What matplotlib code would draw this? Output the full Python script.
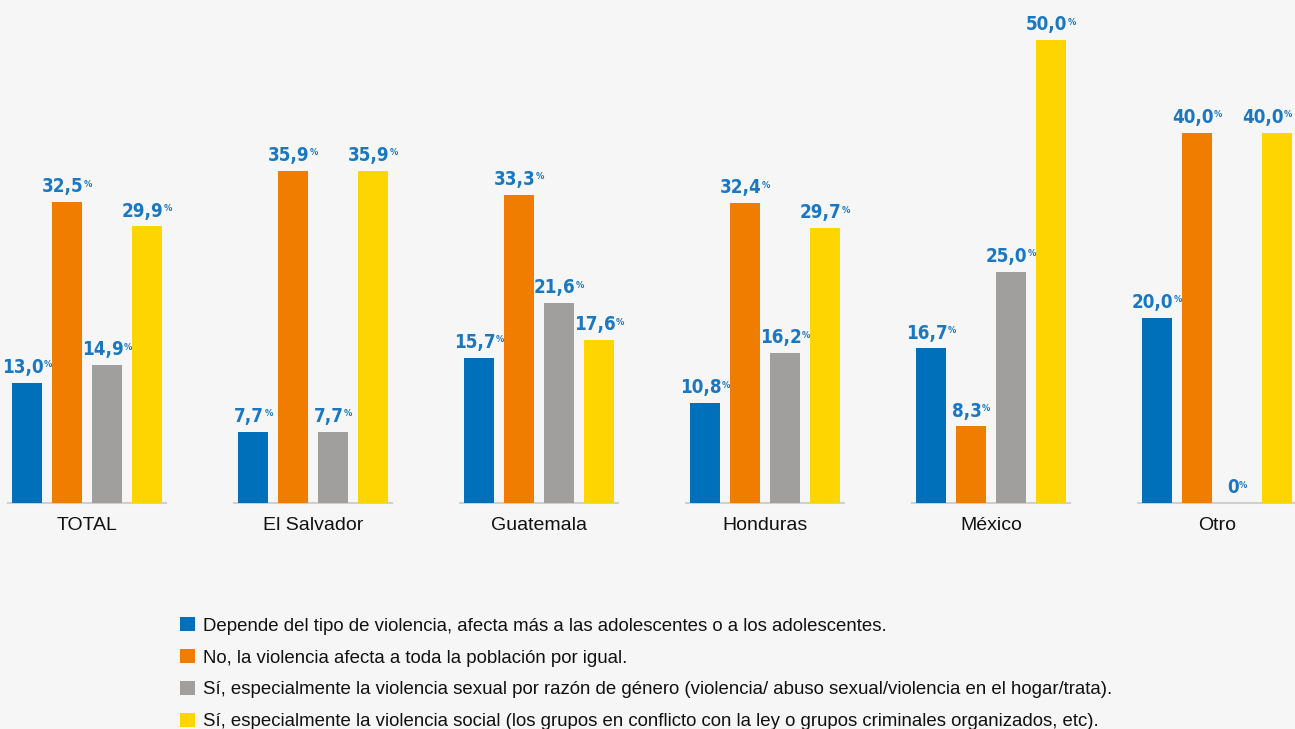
import matplotlib
matplotlib.use("Agg")
import matplotlib.pyplot as plt
import numpy as np
from matplotlib import font_manager as fm

categories = ["TOTAL", "El Salvador", "Guatemala", "Honduras", "México", "Otro"]
series_names = [
    "Depende del tipo de violencia, afecta más a las adolescentes o a los adolescentes.",
    "No, la violencia afecta a toda la población por igual.",
    "Sí, especialmente la violencia sexual por razón de género (violencia/ abuso sexual/violencia en el hogar/trata).",
    "Sí, especialmente la violencia social (los grupos en conflicto con la ley o grupos criminales organizados, etc).",
]
depende = [13.0, 7.7, 15.7, 10.8, 16.7, 20.0]
no_igual = [32.5, 35.9, 33.3, 32.4, 8.3, 40.0]
sexual = [14.9, 7.7, 21.6, 16.2, 25.0, 0.0]
social = [29.9, 35.9, 17.6, 29.7, 50.0, 40.0]
series = [depende, no_igual, sexual, social]
colors = ["#0070ba", "#f07d00", "#a09f9d", "#ffd500"]
bg = "#f6f6f6"
label_color = "#1a78c2"

# find a condensed bold font file if any
cands = []
for f in fm.fontManager.ttflist:
    nm = (f.name + " " + f.fname).lower()
    if ("condensed" in nm or "narrow" in nm or f.stretch in ("condensed", "semi-condensed", "extra-condensed")):
        w = f.weight if isinstance(f.weight, int) else (700 if "bold" in str(f.weight) else 400)
        if "italic" in nm or "oblique" in nm or f.style != "normal":
            continue
        cands.append((abs(w - 700), f.fname))
cands.sort()
if cands:
    cond_prop = fm.FontProperties(fname=cands[0][1])
    cond_size = 13.5
else:
    cond_prop = fm.FontProperties(family="DejaVu Sans", weight="bold")
    cond_size = 11.5

names = {f.name for f in fm.fontManager.ttflist}
txt_font = "Liberation Sans" if "Liberation Sans" in names else "DejaVu Sans"

W, H = 1295, 729
fig = plt.figure(figsize=(W / 100, H / 100), dpi=100, facecolor=bg)
ax = fig.add_axes([0, (H - 503) / H, 1, (503 - 40) / H])
ax.set_facecolor(bg)
group_px = 226.0
center0 = 87.0
ax.set_xlim(-center0 / group_px, (W - center0) / group_px)
ax.set_ylim(0, 50)
ax.axis("off")

bw = 30 / group_px
step = 40 / group_px
x = np.arange(len(categories))
pairs = []
for i, (vals, col, nm) in enumerate(zip(series, colors, series_names)):
    pos = x + (i - 1.5) * step
    ax.bar(pos, vals, width=bw, color=col, label=nm, zorder=2)
    for px_, v in zip(pos, vals):
        s = "0" if v == 0 else f"{v:.1f}".replace(".", ",")
        p1 = cond_prop.copy(); p1.set_size(cond_size)
        t = ax.annotate(s, xy=(px_, v), xytext=(-3, 4), textcoords="offset points",
                        ha="center", va="bottom", fontproperties=p1,
                        color=label_color, zorder=3)
        p2 = cond_prop.copy(); p2.set_size(cond_size * 0.5)
        t2 = ax.annotate("%", xy=(1, 1), xycoords=t, xytext=(0.3, -1.5), textcoords="offset points",
                         ha="left", va="top", fontproperties=p2,
                         color=label_color, zorder=3)
        pairs.append((t, t2))

half = 80 / group_px
for xc in x:
    ax.plot([xc - half, xc + half], [0, 0], color="#cfcfcf", lw=1.5, zorder=1,
            solid_capstyle="butt", clip_on=False)

for xc, c in zip(x, categories):
    ax.annotate(c, xy=(xc, 0), xytext=(0, -10), textcoords="offset points",
                ha="center", va="top", fontsize=14, family=txt_font, color="#111111")

handles, labels = ax.get_legend_handles_labels()
leg = fig.legend(handles, labels, loc="upper left",
                 bbox_to_anchor=(180 / W, 1 - 617 / H), frameon=False,
                 prop={"family": txt_font, "size": 13.4}, handlelength=0.8,
                 handleheight=0.8, handletextpad=0.45, labelspacing=0.77,
                 borderpad=0, borderaxespad=0)
for t in leg.get_texts():
    t.set_color("#111111")

# keep value labels inside the figure
fig.canvas.draw()
r = fig.canvas.get_renderer()
for t, t2 in pairs:
    right = t2.get_window_extent(r).x1
    left = t.get_window_extent(r).x0
    dx = 0
    if right > W - 3:
        dx = (W - 3) - right
    elif left < 2:
        dx = 2 - left
    if dx:
        ox, oy = t.xyann
        t.xyann = (ox + dx * 72 / 100, oy)

fig.savefig("out.png", dpi=100, facecolor=bg)
